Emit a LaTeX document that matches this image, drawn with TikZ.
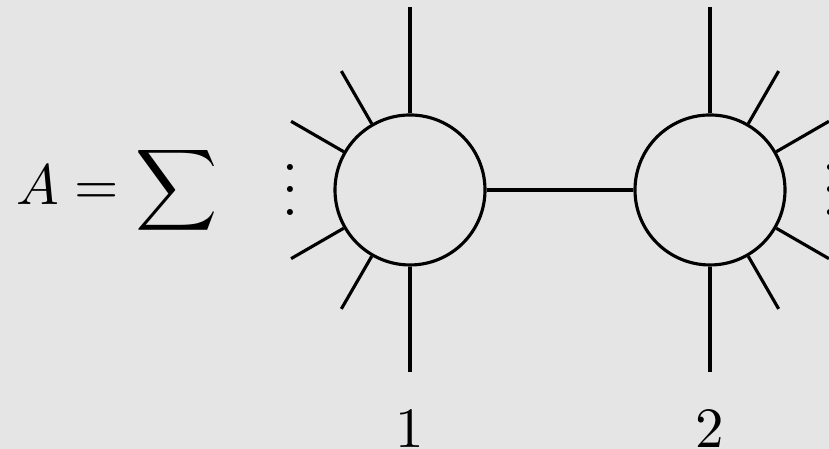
\documentclass[tikz,border=0pt]{standalone}
\usepackage{amsmath}
\usepackage{amssymb}
\usetikzlibrary{positioning}

\tikzset{vertex/.style = {draw, circle, minimum size=0.925cm, inner sep=0pt}}

\begin{document}
\begin{tikzpicture}[scale=0.4625, line width=0.55pt]
        % Background
        \fill[black!10] (-5.4667,-3.4533) rectangle (5.5867,2.5333);
        \useasboundingbox (-5.4667,-3.4533) rectangle (5.5867,2.5333);
        % Sum
        \node[anchor=west, inner sep=0pt] (sum) at (-5.27,0) {$A=\displaystyle\sum$};
        % Vertex 1
        \node[vertex] (v1) at (0,0) {};
        \draw (v1.north) -- +(0,1.42);
        \draw (v1.south) -- +(0,-1.4);
        \foreach \a in {120,150,210,240}
            \draw (v1.\a) -- +(\a:0.81);
        \node[anchor=base, inner sep=0pt, yshift=-4.5pt] (d1) at (-1.6,0) {$\vdots$};
        \node[anchor=base] (l1) at (0,-3.43) {$1$};
        % Vertex 2
        \node[vertex] (v2) at (4,0) {};
        \draw (v2.north) -- +(0,1.42);
        \draw (v2.south) -- +(0,-1.4);
        \foreach \a in {60,30,-30,-60}
            \draw (v2.\a) -- +(\a:0.81);
        \node[anchor=base, inner sep=0pt, yshift=-4.5pt] (d2) at (5.6,0) {$\vdots$};
        \node[anchor=base] (l2) at (4,-3.43) {$2$};
        % Edge
        \draw (v1) -- (v2);
    \end{tikzpicture}
\end{document}
